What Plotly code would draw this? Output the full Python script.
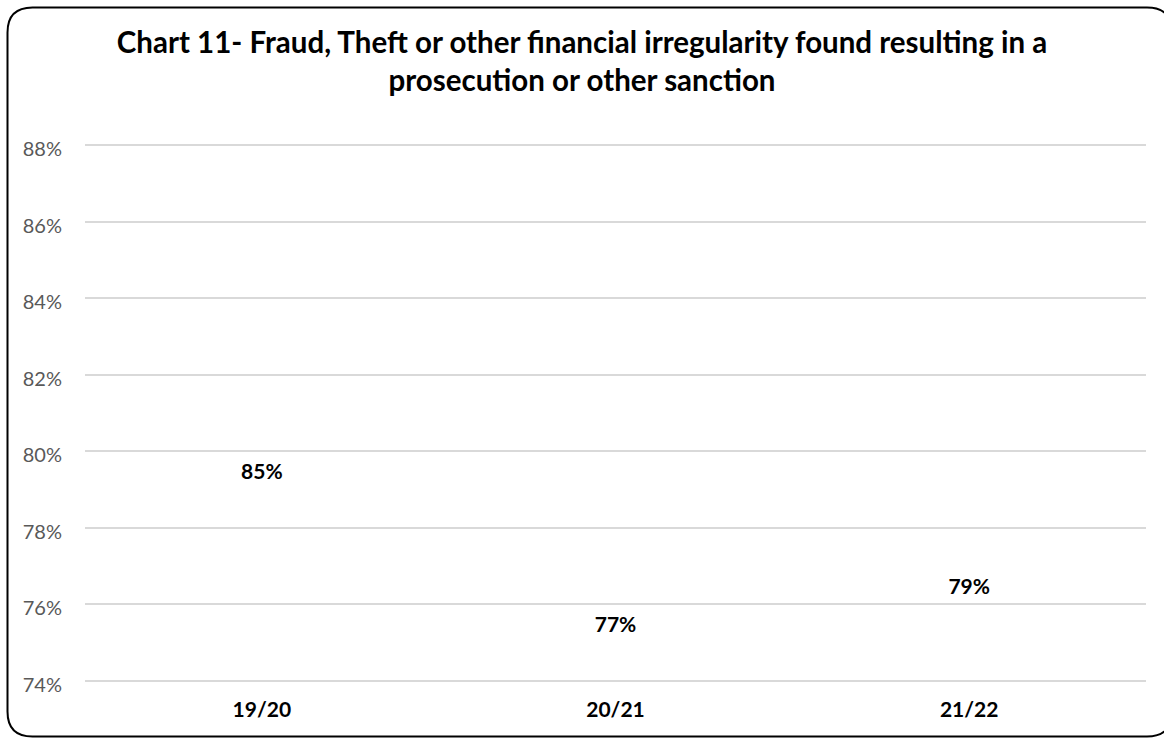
import plotly.graph_objects as go

# Share of fraud / theft cases resulting in a prosecution or other sanction
years = ["19/20", "20/21", "21/22"]
sanction_rate = [0.85, 0.77, 0.79]
tick_values = [0.74, 0.76, 0.78, 0.80, 0.82, 0.84, 0.86, 0.88]
tick_labels = ["74%", "76%", "78%", "80%", "82%", "84%", "86%", "88%"]

AXIS_MIN, AXIS_MAX = 0.74, 0.88
PAD = 0.0005  # small padding so the end gridlines are still drawn

W, H = 1164, 738
ML, MR, MT, MB = 85, 18, 143, 55
PW, PH = W - ML - MR, H - MT - MB

FONT = "Lato"

fig = go.Figure()

# Unfilled columns starting at the axis floor; value labels sit in the middle
fig.add_trace(go.Bar(
    x=years,
    y=[v - AXIS_MIN for v in sanction_rate],
    base=AXIS_MIN,
    marker=dict(color="rgba(0,0,0,0)", line=dict(width=0)),
    text=[f"{round(v * 100)}%" for v in sanction_rate],
    textposition="inside",
    insidetextanchor="middle",
    textangle=0,
    constraintext="none",
    textfont=dict(family=FONT, size=21, color="#000000", weight="bold"),
    hoverinfo="skip",
))


def px_x(p):
    return (p - ML) / PW


def px_y(p):
    return (H - MB - p) / PH


# Rounded outer frame
x0, x1, y0, y1, r = 7.5, 1172, 7.5, 736.5, 25
path = (
    f"M {px_x(x0 + r)},{px_y(y0)} "
    f"L {px_x(x1 - r)},{px_y(y0)} "
    f"Q {px_x(x1)},{px_y(y0)} {px_x(x1)},{px_y(y0 + r)} "
    f"L {px_x(x1)},{px_y(y1 - r)} "
    f"Q {px_x(x1)},{px_y(y1)} {px_x(x1 - r)},{px_y(y1)} "
    f"L {px_x(x0 + r)},{px_y(y1)} "
    f"Q {px_x(x0)},{px_y(y1)} {px_x(x0)},{px_y(y1 - r)} "
    f"L {px_x(x0)},{px_y(y0 + r)} "
    f"Q {px_x(x0)},{px_y(y0)} {px_x(x0 + r)},{px_y(y0)} Z"
)
fig.add_shape(type="path", path=path, xref="paper", yref="paper",
              line=dict(color="#000000", width=2), layer="above")

fig.update_layout(
    width=W, height=H,
    margin=dict(l=ML, r=MR, t=MT, b=MB),
    paper_bgcolor="#ffffff",
    plot_bgcolor="#ffffff",
    showlegend=False,
    bargap=0.5,
    title=dict(
        text="Chart 11- Fraud, Theft or other financial irregularity found resulting in a<br>prosecution or other sanction",
        x=0.5, xanchor="center",
        y=1 - 53 / H, yanchor="middle", yref="container",
        font=dict(family=FONT, size=29.5, color="#000000", weight="bold"),
    ),
    xaxis=dict(
        showgrid=False, showline=False, zeroline=False, ticks="",
        tickfont=dict(family=FONT, size=21, color="#000000", weight="bold"),
        ticklabelstandoff=12,
        fixedrange=True,
    ),
    yaxis=dict(
        range=[AXIS_MIN - PAD, AXIS_MAX + PAD],
        tickvals=tick_values, ticktext=tick_labels,
        showgrid=True, gridcolor="#d9d9d9", gridwidth=1.5,
        showline=False, zeroline=False, ticks="",
        tickfont=dict(family=FONT, size=20, color="#595959"),
        ticklabelstandoff=22,
        ticklabelshift=4,
        fixedrange=True,
    ),
)

fig.write_html("out.html")
